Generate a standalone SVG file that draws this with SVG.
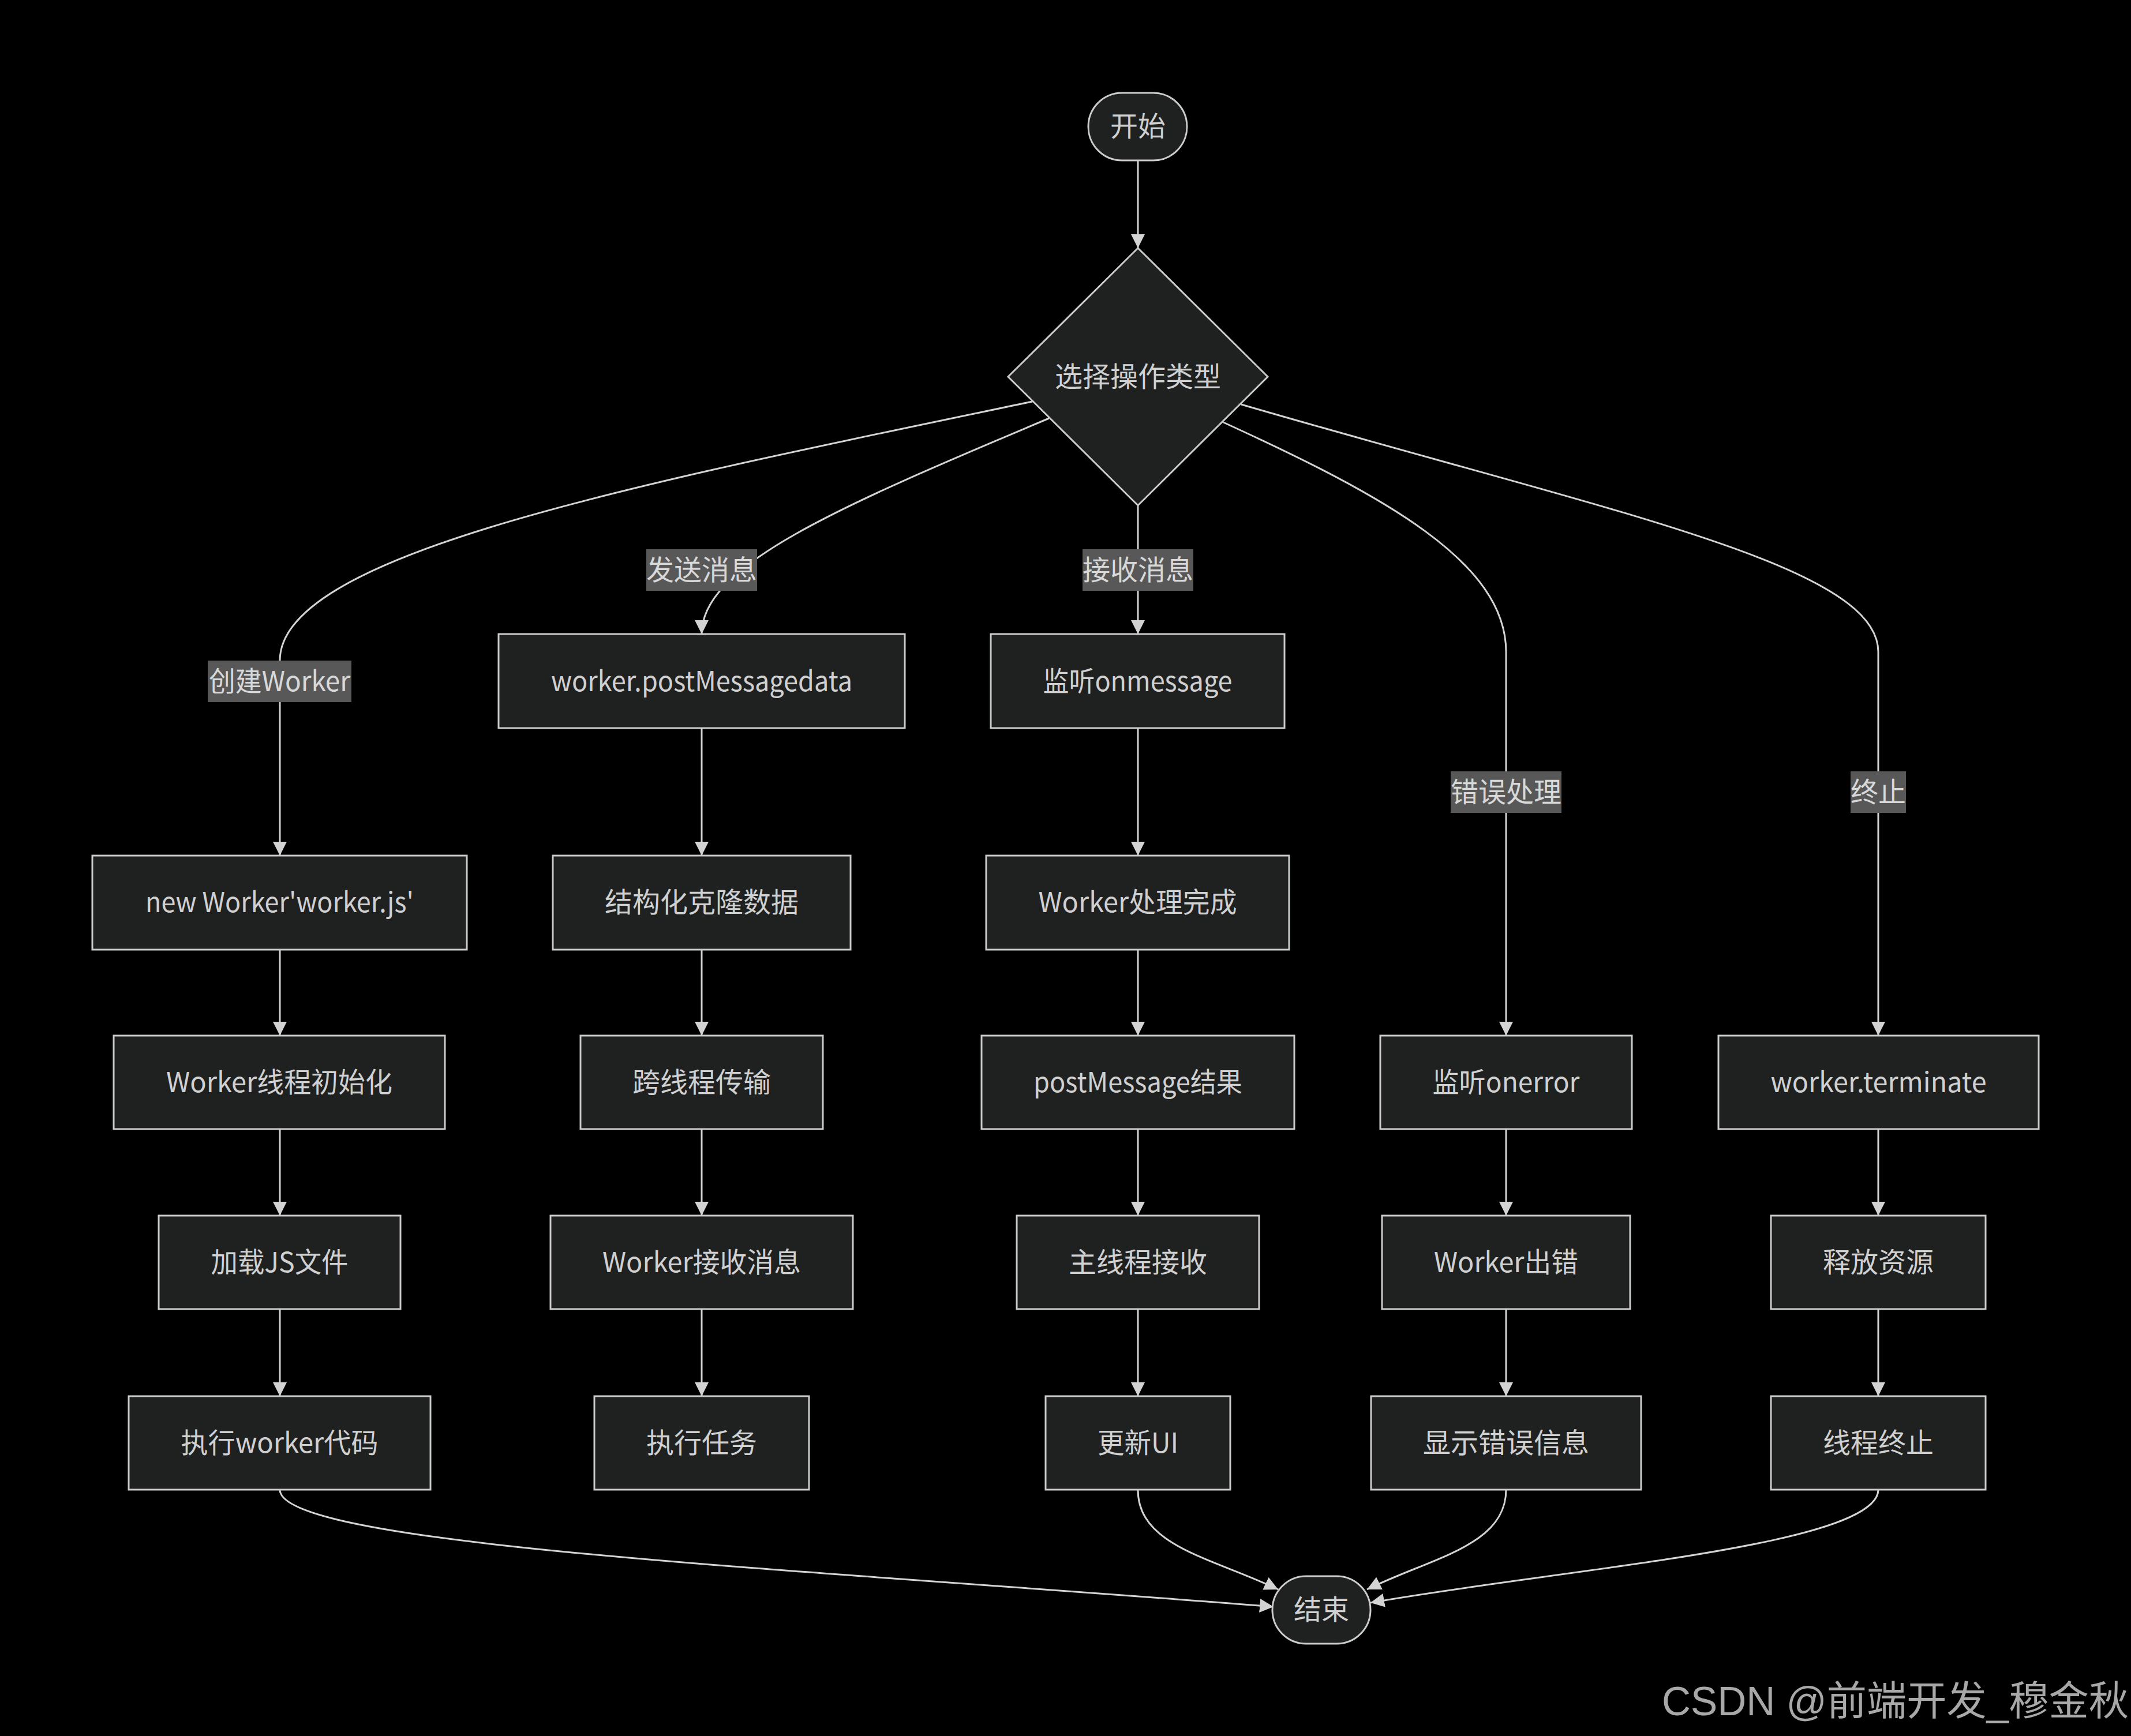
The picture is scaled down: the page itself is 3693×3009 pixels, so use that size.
<svg xmlns="http://www.w3.org/2000/svg" width="3693" height="3009" viewBox="0 0 3693 3009">
<style>
.node rect, .node polygon { fill: #1f2020; stroke: #cccccc; stroke-width: 3; }
.node text { fill: #d0d0d0; font-family: "Noto Sans CJK SC", "Noto Sans", sans-serif; font-size: 48px; text-anchor: middle; dominant-baseline: central; }
.edge { fill: none; stroke: #d3d3d3; stroke-width: 3; marker-end: url(#arr); }
.elabel rect { fill: #585858; }
.elabel text { fill: #d8d8d8; font-family: "Noto Sans CJK SC", "Noto Sans", sans-serif; font-size: 48px; text-anchor: middle; dominant-baseline: central; }
.wm { fill: #a8a8a8; font-family: "Liberation Sans", "Noto Sans CJK SC", sans-serif; font-size: 70px; }
</style>
<defs>
<marker id="arr" markerUnits="userSpaceOnUse" viewBox="0 0 10 10" refX="10" refY="5" markerWidth="24" markerHeight="24" orient="auto">
<path d="M0,0 L10,5 L0,10 z" fill="#d3d3d3"/>
</marker>
</defs>
<rect x="0" y="0" width="3693" height="3009" fill="#000000"/>

<g id="connectors">
<path class="edge" d="M1972,278 L1972,430"/>
<path class="edge" d="M1789,696 C1100,840 485,960 485,1145 L485,1483"/>
<path class="edge" d="M1818,725 C1450,880 1216,980 1216,1099"/>
<path class="edge" d="M1972,876 L1972,1099"/>
<path class="edge" d="M2120,732 C2400,860 2610,975 2610,1130 L2610,1795"/>
<path class="edge" d="M2151,701 C2800,890 3255,980 3255,1130 L3255,1795"/>
<path class="edge" d="M485,1646 L485,1795"/>
<path class="edge" d="M485,1957 L485,2107"/>
<path class="edge" d="M485,2269 L485,2420"/>
<path class="edge" d="M1216,1262 L1216,1483"/>
<path class="edge" d="M1216,1646 L1216,1795"/>
<path class="edge" d="M1216,1957 L1216,2107"/>
<path class="edge" d="M1216,2269 L1216,2420"/>
<path class="edge" d="M1972,1262 L1972,1483"/>
<path class="edge" d="M1972,1646 L1972,1795"/>
<path class="edge" d="M1972,1957 L1972,2107"/>
<path class="edge" d="M1972,2269 L1972,2420"/>
<path class="edge" d="M2610,1957 L2610,2107"/>
<path class="edge" d="M2610,2269 L2610,2420"/>
<path class="edge" d="M3255,1957 L3255,2107"/>
<path class="edge" d="M3255,2269 L3255,2420"/>
<path class="edge" d="M485,2582 C485,2680 1400,2720 2207,2785"/>
<path class="edge" d="M1972,2582 C1972,2680 2100,2700 2215,2755"/>
<path class="edge" d="M2610,2582 C2610,2680 2480,2700 2369,2755"/>
<path class="edge" d="M3255,2582 C3255,2680 2700,2720 2375,2778"/>
</g>

<g id="edge-labels">
<g class="elabel" id="label-create"><rect x="360" y="1145" width="249" height="72"/><text x="484.5" y="1177" textLength="245" lengthAdjust="spacingAndGlyphs">创建Worker</text></g>
<g class="elabel" id="label-send"><rect x="1120" y="952" width="192" height="72"/><text x="1216" y="984">发送消息</text></g>
<g class="elabel" id="label-recv"><rect x="1876" y="952" width="192" height="72"/><text x="1972" y="984">接收消息</text></g>
<g class="elabel" id="label-error"><rect x="2514" y="1337" width="192" height="72"/><text x="2610" y="1369">错误处理</text></g>
<g class="elabel" id="label-term"><rect x="3207" y="1337" width="96" height="72"/><text x="3255" y="1369">终止</text></g>
</g>

<g id="start" class="node"><rect x="1886" y="161" width="171" height="117" rx="58.5" ry="58.5"/><text x="1972" y="215">开始</text></g>
<g id="choose" class="node"><polygon points="1972,430 2197,653 1972,876 1747,653"/><text x="1972" y="649">选择操作类型</text></g>

<g id="newWorker" class="node"><rect x="160" y="1483" width="649" height="163"/><text x="484.5" y="1560" textLength="465" lengthAdjust="spacingAndGlyphs">new Worker'worker.js'</text></g>
<g id="workerInit" class="node"><rect x="197" y="1795" width="574" height="162"/><text x="484" y="1872" textLength="392" lengthAdjust="spacingAndGlyphs">Worker线程初始化</text></g>
<g id="loadJS" class="node"><rect x="275" y="2107" width="419" height="162"/><text x="484.5" y="2184" textLength="238" lengthAdjust="spacingAndGlyphs">加载JS文件</text></g>
<g id="execWorker" class="node"><rect x="223" y="2420" width="523" height="162"/><text x="484.5" y="2497" textLength="342" lengthAdjust="spacingAndGlyphs">执行worker代码</text></g>

<g id="postMessage" class="node"><rect x="864" y="1099" width="704" height="163"/><text x="1216" y="1176.5" textLength="522" lengthAdjust="spacingAndGlyphs">worker.postMessagedata</text></g>
<g id="clone" class="node"><rect x="958" y="1483" width="516" height="163"/><text x="1216" y="1560">结构化克隆数据</text></g>
<g id="transfer" class="node"><rect x="1006" y="1795" width="420" height="162"/><text x="1216" y="1872">跨线程传输</text></g>
<g id="workerRecv" class="node"><rect x="954" y="2107" width="524" height="162"/><text x="1216" y="2184" textLength="344" lengthAdjust="spacingAndGlyphs">Worker接收消息</text></g>
<g id="execTask" class="node"><rect x="1030" y="2420" width="372" height="162"/><text x="1216" y="2497">执行任务</text></g>

<g id="onmessage" class="node"><rect x="1717" y="1099" width="509" height="163"/><text x="1971.5" y="1176.5" textLength="328" lengthAdjust="spacingAndGlyphs">监听onmessage</text></g>
<g id="workerDone" class="node"><rect x="1709" y="1483" width="525" height="163"/><text x="1971.5" y="1560" textLength="344" lengthAdjust="spacingAndGlyphs">Worker处理完成</text></g>
<g id="postResult" class="node"><rect x="1701" y="1795" width="542" height="162"/><text x="1972" y="1872" textLength="362" lengthAdjust="spacingAndGlyphs">postMessage结果</text></g>
<g id="mainRecv" class="node"><rect x="1762" y="2107" width="420" height="162"/><text x="1972" y="2184">主线程接收</text></g>
<g id="updateUI" class="node"><rect x="1812" y="2420" width="320" height="162"/><text x="1972" y="2497" textLength="140" lengthAdjust="spacingAndGlyphs">更新UI</text></g>

<g id="onerror" class="node"><rect x="2392" y="1795" width="436" height="162"/><text x="2610" y="1872" textLength="255" lengthAdjust="spacingAndGlyphs">监听onerror</text></g>
<g id="workerError" class="node"><rect x="2395" y="2107" width="430" height="162"/><text x="2610" y="2184" textLength="250" lengthAdjust="spacingAndGlyphs">Worker出错</text></g>
<g id="showError" class="node"><rect x="2376" y="2420" width="468" height="162"/><text x="2610" y="2497">显示错误信息</text></g>

<g id="terminate" class="node"><rect x="2978" y="1795" width="555" height="162"/><text x="3255.5" y="1872" textLength="374" lengthAdjust="spacingAndGlyphs">worker.terminate</text></g>
<g id="release" class="node"><rect x="3069" y="2107" width="372" height="162"/><text x="3255" y="2184">释放资源</text></g>
<g id="threadEnd" class="node"><rect x="3069" y="2420" width="372" height="162"/><text x="3255" y="2497">线程终止</text></g>

<g id="end" class="node"><rect x="2205" y="2732" width="170" height="117" rx="58.5" ry="58.5"/><text x="2290" y="2786">结束</text></g>

<text class="wm" x="2880" y="2973" textLength="809" lengthAdjust="spacingAndGlyphs">CSDN @前端开发_穆金秋</text>
</svg>
